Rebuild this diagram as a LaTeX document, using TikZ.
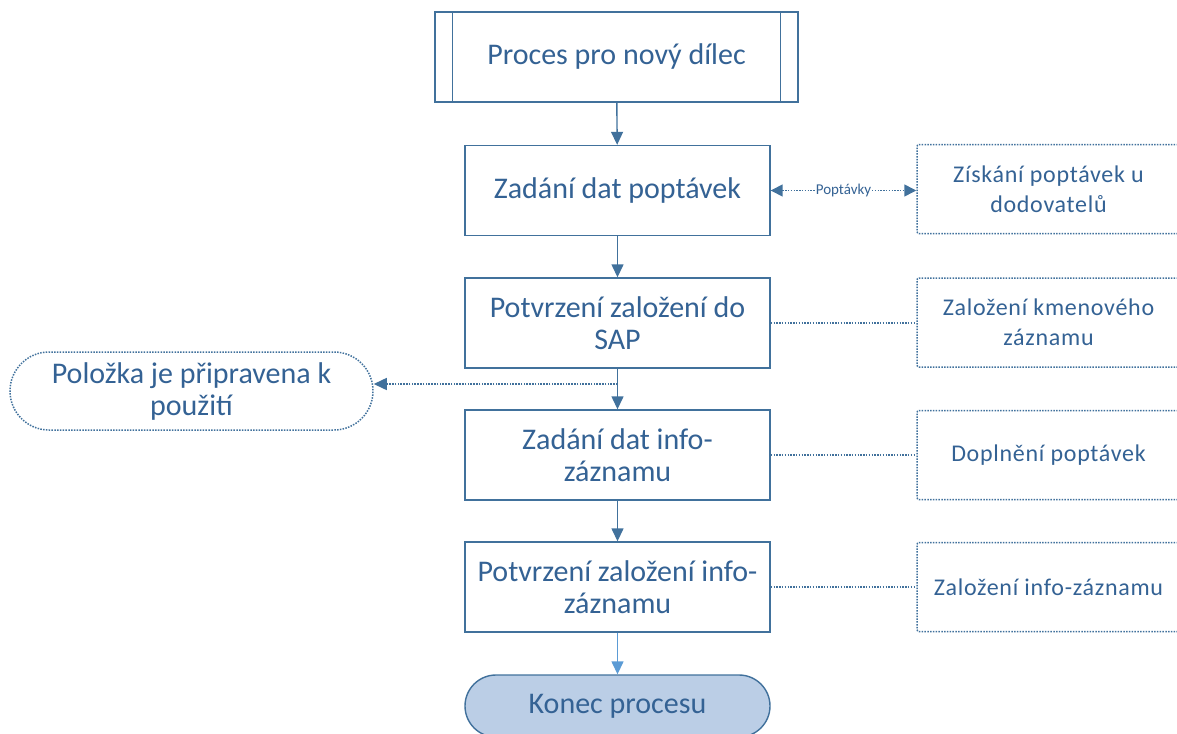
\documentclass[tikz,border=0pt]{standalone}
\usepackage{fontspec}
\setmainfont{Carlito}
\newfontfamily\sidefont[LetterSpace=3]{Carlito}
\usetikzlibrary{arrows.meta,shapes.misc}
\definecolor{bord}{RGB}{65,113,156}
\definecolor{txt}{RGB}{52,98,148}
\definecolor{endfill}{RGB}{187,206,230}
\definecolor{lightarr}{RGB}{91,155,213}
\tikzset{
  main/.style={draw=bord, line width=1.4pt, fill=white, rectangle, minimum width=305pt, minimum height=90pt, align=center, text=txt, font=\fontsize{30}{32}\selectfont, inner sep=0pt},
  dots/.style={dash pattern=on 1.5pt off 1.3pt},
  side/.style={draw=bord, dots, line width=1.5pt, rounded corners=2pt, rectangle, minimum width=263pt, minimum height=89pt, align=center, text=txt, font=\sidefont\fontsize{24}{30}\selectfont, inner sep=0pt},
  flow/.style={draw=bord, line width=1.4pt, -{Triangle[length=13pt,width=12pt]}},
  link/.style={draw=bord, dots, line width=1.5pt},
}
\begin{document}
\begin{tikzpicture}[x=1pt,y=-1pt]
\useasboundingbox (0,0) rectangle (1177,733);
\node[main, minimum width=363pt] (start) at (616.5,57) {Proces pro nový dílec};
\draw[bord, line width=1.4pt] ([xshift=18pt]start.north west) -- ([xshift=18pt]start.south west);
\draw[bord, line width=1.4pt] ([xshift=-18pt]start.north east) -- ([xshift=-18pt]start.south east);
\node[main] (b1) at (617.5,190.5) {Zadání dat poptávek};
\node[main] (b2) at (617.5,323) {Potvrzení založení do\\SAP};
\node[main] (b3) at (617.5,455) {Zadání dat info-\\záznamu};
\node[main] (b4) at (617.5,587) {Potvrzení založení info-\\záznamu};
\node[draw=bord, line width=1.4pt, fill=endfill, rounded rectangle, minimum width=305pt, minimum height=62pt, text=txt, font=\fontsize{30}{32}\selectfont, inner sep=0pt] (end) at (617.5,706) {Konec procesu};

\node[side] (r1) at (1048.5,189) {Získání poptávek u\\dodovatelů};
\node[side] (r2) at (1048.5,322.5) {Založení kmenového\\záznamu};
\node[side] (r3) at (1048.5,455) {Doplnění poptávek};
\node[side] (r4) at (1048.5,587) {Založení info-záznamu};

\node[draw=bord, dots, line width=1.5pt, rounded rectangle, minimum width=363pt, minimum height=78pt, align=center, text=txt, font=\fontsize{30}{32}\selectfont, inner sep=0pt] (ready) at (191.5,391) {Položka je připravena k\\použití};

\draw[flow] (start) -- (b1);
\draw[flow] (b1) -- (b2);
\draw[flow] (b2) -- (b3);
\draw[flow] (b3) -- (b4);
\draw[draw=lightarr, line width=1.4pt, -{Triangle[length=13pt,width=12pt]}, color=lightarr] (b4) -- (end);

\coordinate (split) at (617.5,384);
\draw[link, -{Triangle[length=13pt,width=12pt]}] (split) -- (ready.east |- split);

\draw[link, {Triangle[length=12pt,width=12pt]}-{Triangle[length=12pt,width=12pt]}] (b1.east) -- node[fill=white, inner sep=1pt, text=txt, font=\fontsize{15}{17}\selectfont] {Poptávky} (r1.west |- b1.east);
\draw[link] (b2.east) -- (r2.west |- b2.east);
\draw[link] (b3.east) -- (r3.west);
\draw[link] (b4.east) -- (r4.west);
\end{tikzpicture}
\end{document}
